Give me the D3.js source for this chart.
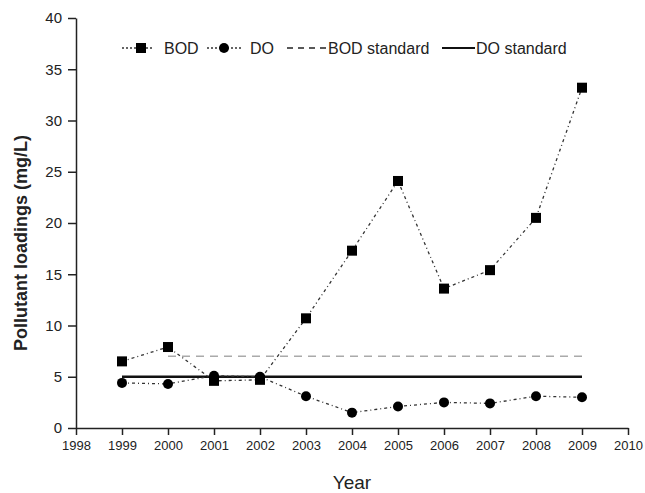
<!DOCTYPE html>
<html><head><meta charset="utf-8">
<script src="https://cdn.jsdelivr.net/npm/d3@7"></script>
<style>body{margin:0;background:#fff}svg{display:block}text{font-family:Arial,"Liberation Sans",sans-serif}</style>
</head><body>
<svg id="c" width="645" height="493"></svg>
<script>
const years = [1999,2000,2001,2002,2003,2004,2005,2006,2007,2008,2009];
const bod = [6.5,7.9,4.6,4.7,10.7,17.3,24.1,13.6,15.4,20.5,33.2];
const dO = [4.4,4.3,5.1,5.0,3.1,1.5,2.1,2.5,2.4,3.1,3.0];
const bodStandard = {value:7.0, from:2000, to:2009};
const doStandard = {value:5.0, from:1999, to:2009};
const xTicks = [1998,1999,2000,2001,2002,2003,2004,2005,2006,2007,2008,2009,2010];
const yTicks = [0,5,10,15,20,25,30,35,40];
const legendLabels = ["BOD","DO","BOD standard","DO standard"];

const svg = d3.select("#c");
const x = d3.scaleLinear().domain([1998,2010]).range([76,628]);
const y = d3.scaleLinear().domain([0,40]).range([428,18]);

svg.append("g").attr("transform","translate(0,428)")
  .call(d3.axisBottom(x).tickValues(xTicks).tickFormat(d3.format("d")).tickSize(7).tickPadding(6).tickSizeOuter(0))
  .call(g=>{g.select(".domain").attr("stroke","#222").attr("stroke-width",1.5);
    g.selectAll("line").attr("stroke","#222").attr("stroke-width",1.5);
    g.selectAll("text").attr("font-size",13).attr("fill","#222");});
svg.append("g").attr("transform","translate(76,0)")
  .call(d3.axisLeft(y).tickValues(yTicks).tickSize(8).tickPadding(6).tickSizeOuter(0))
  .call(g=>{g.select(".domain").attr("stroke","#222").attr("stroke-width",1.5);
    g.selectAll("line").attr("stroke","#222").attr("stroke-width",1.5);
    g.selectAll("text").attr("font-size",15).attr("fill","#222");});

// standards
svg.append("line").attr("x1",x(bodStandard.from)).attr("x2",x(bodStandard.to))
  .attr("y1",y(bodStandard.value)).attr("y2",y(bodStandard.value))
  .attr("stroke","#aaa").attr("stroke-width",1.3).attr("stroke-dasharray","8,6");
svg.append("line").attr("x1",x(doStandard.from)).attr("x2",x(doStandard.to))
  .attr("y1",y(doStandard.value)).attr("y2",y(doStandard.value))
  .attr("stroke","#111").attr("stroke-width",2.5);

const line = d3.line().x(d=>x(d[0])).y(d=>y(d[1]));
const bodPts = years.map((yr,i)=>[yr,bod[i]]);
const doPts = years.map((yr,i)=>[yr,dO[i]]);
svg.append("path").attr("d",line(bodPts)).attr("fill","none").attr("stroke","#333")
  .attr("stroke-width",1.3).attr("stroke-dasharray","3,3,1,3");
svg.append("path").attr("d",line(doPts)).attr("fill","none").attr("stroke","#333")
  .attr("stroke-width",1.3).attr("stroke-dasharray","3,3,1,3");
svg.selectAll(".sq").data(bodPts).join("rect").attr("x",d=>x(d[0])-5).attr("y",d=>y(d[1])-5)
  .attr("width",10).attr("height",10).attr("fill","#000");
svg.selectAll(".ci").data(doPts).join("circle").attr("cx",d=>x(d[0])).attr("cy",d=>y(d[1]))
  .attr("r",5).attr("fill","#000");

// legend
const ly = 48;
const lg = svg.append("g");
lg.append("line").attr("x1",122).attr("x2",152).attr("y1",ly).attr("y2",ly).attr("stroke","#333").attr("stroke-width",1.3).attr("stroke-dasharray","2,2");
lg.append("rect").attr("x",141-5).attr("y",ly-5).attr("width",10).attr("height",10).attr("fill","#000");
lg.append("text").attr("x",164).attr("y",ly+6).attr("font-size",16).attr("fill","#222").text(legendLabels[0]);
lg.append("line").attr("x1",207).attr("x2",243).attr("y1",ly).attr("y2",ly).attr("stroke","#333").attr("stroke-width",1.3).attr("stroke-dasharray","2,2");
lg.append("circle").attr("cx",224).attr("cy",ly).attr("r",5).attr("fill","#000");
lg.append("text").attr("x",250).attr("y",ly+6).attr("font-size",16).attr("fill","#222").text(legendLabels[1]);
lg.append("line").attr("x1",287).attr("x2",327).attr("y1",ly).attr("y2",ly).attr("stroke","#222").attr("stroke-width",1.5).attr("stroke-dasharray","6,5");
lg.append("text").attr("x",328).attr("y",ly+6).attr("font-size",16).attr("fill","#222").text(legendLabels[2]);
lg.append("line").attr("x1",442).attr("x2",475).attr("y1",ly).attr("y2",ly).attr("stroke","#111").attr("stroke-width",2);
lg.append("text").attr("x",476).attr("y",ly+6).attr("font-size",16).attr("fill","#222").text(legendLabels[3]);

// axis titles
svg.append("text").attr("transform","translate(27,243) rotate(-90)").attr("text-anchor","middle")
  .attr("font-size",18).attr("font-weight","bold").attr("fill","#222").text("Pollutant loadings (mg/L)");
svg.append("text").attr("x",352).attr("y",489).attr("text-anchor","middle")
  .attr("font-size",19).attr("fill","#222").text("Year");
</script>
</body></html>
